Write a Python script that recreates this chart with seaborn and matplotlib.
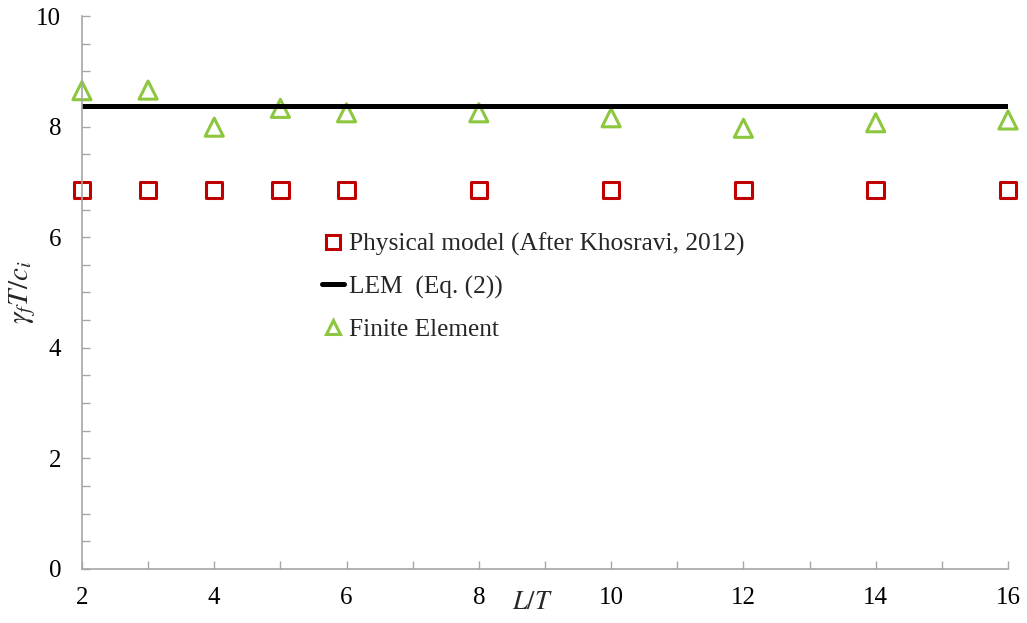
import matplotlib
matplotlib.use("Agg")
import matplotlib.pyplot as plt
import seaborn as sns
import pandas as pd
from matplotlib.ticker import MultipleLocator
from matplotlib.lines import Line2D

sns.set_theme(style="white")
plt.rcParams['font.family'] = ['Liberation Serif', 'DejaVu Serif']
plt.rcParams['mathtext.fontset'] = 'stix'

# Data
lt_physical = [2, 3, 4, 5, 6, 8, 10, 12, 14, 16]
physical = [6.85, 6.85, 6.85, 6.85, 6.85, 6.85, 6.85, 6.85, 6.85, 6.85]
lt_lem = [2, 16]
lem = [8.38, 8.38]
lt_fe = [2, 3, 4, 5, 6, 8, 10, 12, 14, 16]
fe = [8.65, 8.66, 7.99, 8.33, 8.25, 8.25, 8.16, 7.97, 8.07, 8.12]

labels = ["Physical model (After Khosravi, 2012)", "LEM  (Eq. (2))", "Finite Element"]

red = "#C00000"
green = "#8DC63F"
grey = "#A6A6A6"

fig = plt.figure(figsize=(10.27, 6.23), dpi=100)
ax = fig.add_axes([0.0798, 0.0867, 0.9017, 0.8876])

sns.lineplot(x=lt_lem, y=lem, ax=ax, color="black", linewidth=3.6, legend=False)
sns.scatterplot(x=lt_physical, y=physical, ax=ax, marker="s", s=140,
                facecolor="none", edgecolor=red, linewidth=2.2, clip_on=False, legend=False)
sns.scatterplot(x=lt_fe, y=fe, ax=ax, marker="^", s=170,
                facecolor="none", edgecolor=green, linewidth=2.2, clip_on=False, legend=False)

ax.set_xlim(2, 16)
ax.set_ylim(0, 10)
ax.xaxis.set_major_locator(MultipleLocator(2))
ax.xaxis.set_minor_locator(MultipleLocator(1))
ax.yaxis.set_major_locator(MultipleLocator(2))
ax.yaxis.set_minor_locator(MultipleLocator(0.5))
ax.tick_params(axis='both', which='both', direction='in', color=grey, width=1,
               bottom=True, left=True, labelsize=18, labelcolor="black")
ax.tick_params(axis='both', which='major', length=6)
ax.tick_params(axis='both', which='minor', length=6)
ax.tick_params(axis='x', which='major', pad=13)
ax.tick_params(axis='y', which='major', pad=15)

for s in ["top", "right"]:
    ax.spines[s].set_visible(False)
for s in ["left", "bottom"]:
    ax.spines[s].set_color(grey)
    ax.spines[s].set_linewidth(1.2)

ax.set_xlabel(r"$L/T$", fontsize=19)
ax.xaxis.set_label_coords(0.487, -0.042)
ax.set_ylabel(r"$\gamma_f T/c_i$", fontsize=21)
ax.yaxis.set_label_coords(-0.048, 0.5)

handles = [
    Line2D([], [], marker="s", linestyle="none", markerfacecolor="none",
           markeredgecolor=red, markeredgewidth=2.2, markersize=10),
    Line2D([], [], color="black", linewidth=3.6),
    Line2D([], [], marker="^", linestyle="none", markerfacecolor="none",
           markeredgecolor=green, markeredgewidth=2.2, markersize=10),
]
leg = ax.legend(handles, labels, loc="upper left", bbox_to_anchor=(0.235, 0.649),
                frameon=False, fontsize=18.3, handlelength=0.85, handletextpad=0.2,
                labelspacing=0.75)

fig.savefig("out.png", dpi=100)
